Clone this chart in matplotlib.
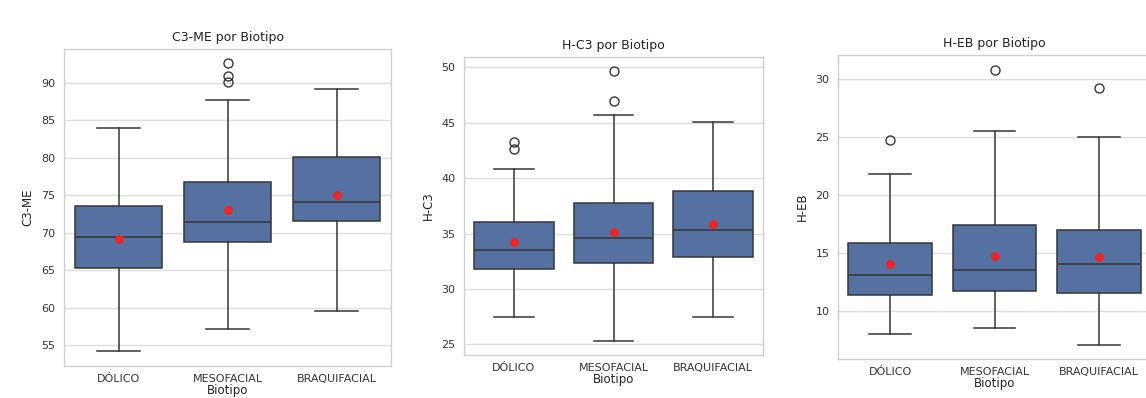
import matplotlib
matplotlib.use("Agg")
import matplotlib.pyplot as plt

W, H = 1146, 398
categories = ["DÓLICO", "MESOFACIAL", "BRAQUIFACIAL"]

# Panel 1: C3-ME
c3me_whislo = [54.2, 57.1, 59.6]
c3me_q1 = [65.3, 68.7, 71.5]
c3me_med = [69.4, 71.4, 74.1]
c3me_mean = [69.2, 73.0, 75.0]
c3me_q3 = [73.5, 76.8, 80.1]
c3me_whishi = [84.0, 87.7, 89.2]
c3me_fliers = [[], [92.6, 90.9, 90.1], []]

# Panel 2: H-C3
hc3_whislo = [27.5, 25.3, 27.5]
hc3_q1 = [31.8, 32.3, 32.9]
hc3_med = [33.5, 34.6, 35.3]
hc3_mean = [34.2, 35.1, 35.9]
hc3_q3 = [36.0, 37.8, 38.8]
hc3_whishi = [40.8, 45.7, 45.1]
hc3_fliers = [[43.3, 42.6], [49.7, 47.0], []]

# Panel 3: H-EB
heb_whislo = [8.0, 8.5, 7.0]
heb_q1 = [11.35, 11.7, 11.5]
heb_med = [13.05, 13.5, 14.05]
heb_mean = [14.0, 14.75, 14.65]
heb_q3 = [15.8, 17.4, 17.0]
heb_whishi = [21.8, 25.55, 25.0]
heb_fliers = [[24.7], [30.8], [29.25]]

panels = [
    dict(title="C3-ME por Biotipo", ylabel="C3-ME",
         lo=c3me_whislo, q1=c3me_q1, med=c3me_med, mean=c3me_mean, q3=c3me_q3,
         hi=c3me_whishi, fl=c3me_fliers, ylim=(52.2, 94.5), ticks=[55, 60, 65, 70, 75, 80, 85, 90],
         box=(64, 391, 49, 366)),
    dict(title="H-C3 por Biotipo", ylabel="H-C3",
         lo=hc3_whislo, q1=hc3_q1, med=hc3_med, mean=hc3_mean, q3=hc3_q3,
         hi=hc3_whishi, fl=hc3_fliers, ylim=(24.04, 50.93), ticks=[25, 30, 35, 40, 45, 50],
         box=(464, 763, 57, 355)),
    dict(title="H-EB por Biotipo", ylabel="H-EB",
         lo=heb_whislo, q1=heb_q1, med=heb_med, mean=heb_mean, q3=heb_q3,
         hi=heb_whishi, fl=heb_fliers, ylim=(5.83, 32.07), ticks=[10, 15, 20, 25, 30],
         box=(838, 1151, 55, 359)),
]

fig = plt.figure(figsize=(W / 100, H / 100), dpi=100)
fig.patch.set_facecolor("white")

box_color = "#5571A1"
line_color = "#363636"

for p in panels:
    l, r, t, b = p["box"]
    ax = fig.add_axes([l / W, (H - b) / H, (r - l) / W, (b - t) / H])
    stats = []
    for i in range(3):
        stats.append(dict(med=p["med"][i], q1=p["q1"][i], q3=p["q3"][i],
                          whislo=p["lo"][i], whishi=p["hi"][i],
                          fliers=p["fl"][i], mean=p["mean"][i], label=categories[i]))
    ax.set_axisbelow(True)
    ax.yaxis.grid(True, color="#dddddd", linewidth=1.0)
    ax.xaxis.grid(False)
    ax.bxp(stats, positions=[0, 1, 2], widths=0.8, capwidths=0.4, patch_artist=True,
           showmeans=True,
           boxprops=dict(facecolor=box_color, edgecolor=line_color, linewidth=1.1),
           medianprops=dict(color=line_color, linewidth=1.1),
           whiskerprops=dict(color=line_color, linewidth=1.1),
           capprops=dict(color=line_color, linewidth=1.1),
           flierprops=dict(marker="o", markerfacecolor="none", markeredgecolor=line_color,
                           markersize=6.5, markeredgewidth=1.0),
           meanprops=dict(marker="o", markerfacecolor="#e8282b", markeredgecolor="#e8282b",
                          markersize=5.5))
    ax.set_xlim(-0.5, 2.5)
    ax.set_ylim(*p["ylim"])
    ax.set_yticks(p["ticks"])
    ax.set_xticks([0, 1, 2])
    ax.set_xticklabels(categories)
    for s in ax.spines.values():
        s.set_color("#d0d0d0")
        s.set_linewidth(1.0)
    ax.tick_params(axis="both", length=0, labelsize=8, labelcolor="#333333", pad=6)
    ax.set_title(p["title"], fontsize=9, color="#222222", pad=6)
    ax.set_ylabel(p["ylabel"], fontsize=8.5, color="#222222", labelpad=5)
    ax.set_xlabel("Biotipo", fontsize=8.5, color="#222222", labelpad=0)

fig.savefig("out.png", dpi=100, facecolor="white")
